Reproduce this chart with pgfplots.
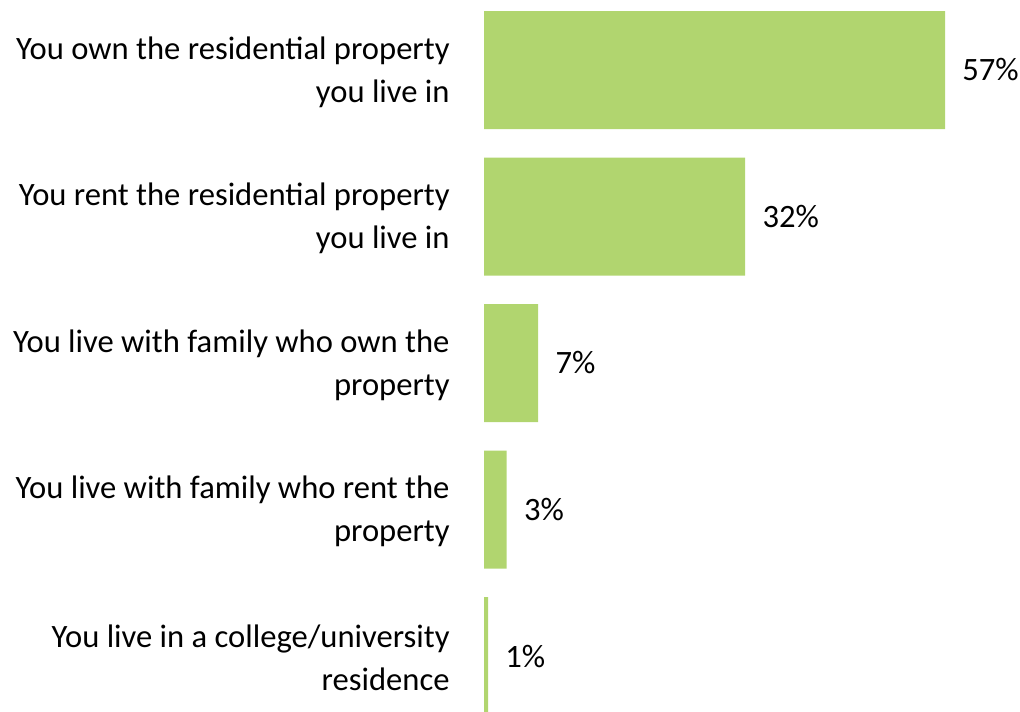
\documentclass[border=0pt]{standalone}
\usepackage{pgfplots}
\usepackage{pgfplotstable}
\pgfplotsset{compat=1.18}
\usepackage{fontspec}
\setmainfont{Carlito}
\definecolor{barg}{RGB}{177,213,111}
\pgfplotstableread{
y val lab
0 57   57\%
1 32.3 32\%
2 6.7  7\%
3 2.8  3\%
4 0.5  1\%
}\housing
\begin{document}
\begin{tikzpicture}
\path[use as bounding box] (0,0) rectangle (510pt,-355.5pt);
\begin{axis}[
	at={(242pt,1.625pt)}, anchor=north west,
	scale only axis, width=230.5pt, height=366.25pt,
	xbar, bar width=59pt, bar shift=0pt,
	xmin=0, xmax=57,
	ymin=-0.5, ymax=4.5, y dir=reverse,
	separate axis lines, axis x line*=bottom, axis y line*=left,
	axis line style={draw=none}, tick style={draw=none}, major tick length=0pt,
	xtick=\empty,
	ytick={0,1,2,3,4},
	yticklabels={{You own the residential property\\you live in},
		{You rent the residential property\\you live in},
		{You live with family who own the\\property},
		{You live with family who rent the\\property},
		{You live in a college/university\\residence}},
	yticklabel style={align=right, inner sep=0pt, xshift=-17pt, yshift=-1pt,
		font=\fontsize{16.3}{21.5}\selectfont},
	nodes near coords, point meta=explicit symbolic,
	every node near coord/.append style={anchor=west, inner sep=0pt, xshift=8.5pt,
		font=\fontsize{16.3}{21.5}\selectfont, text=black},
	clip=false]
\addplot[fill=barg, draw=none] table[x=val, y=y, meta=lab] {\housing};
\end{axis}
\end{tikzpicture}
\end{document}
